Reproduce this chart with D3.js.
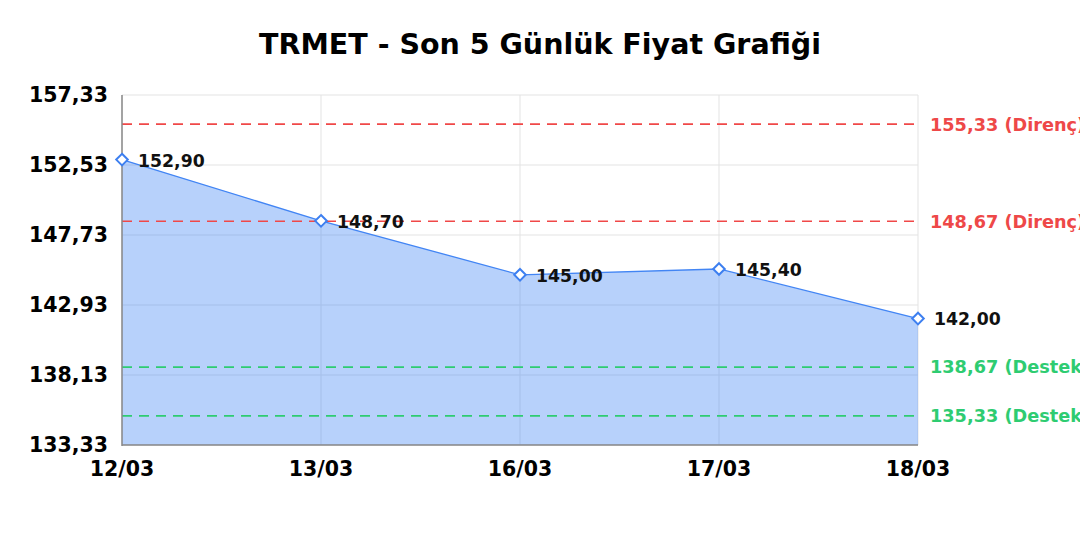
<!DOCTYPE html>
<html>
  <head>
    <meta charset="utf-8" />
    <script src="https://d3js.org/d3.v7.min.js"></script>
    <style>
      body { margin: 0; background: #fff; }
      text { font-family: "DejaVu Sans", sans-serif; font-weight: bold; }
    </style>
  </head>
  <body>
    <svg id="chart" width="1080" height="540"></svg>
    <script>
      // data
      var dates = ["12/03", "13/03", "16/03", "17/03", "18/03"];
      var prices = [152.90, 148.70, 145.00, 145.40, 142.00];
      var yTicks = [133.33, 138.13, 142.93, 147.73, 152.53, 157.33];
      var levelValues = [155.33, 148.67, 138.67, 135.33];
      var levelNames = ["Direnç", "Direnç", "Destek", "Destek"];

      var svg = d3.select("#chart");
      var plotLeft = 122, plotRight = 918, plotTop = 95, plotBottom = 445;

      var fmt = function(v) { return v.toFixed(2).replace(".", ","); };

      var x = d3.scalePoint().domain(dates).range([plotLeft, plotRight]);
      var y = d3.scaleLinear().domain([133.33, 157.33]).range([plotBottom, plotTop]);

      var points = dates.map(function(d, i) { return { date: d, price: prices[i] }; });

      // title
      svg.append("text")
        .attr("x", 540).attr("y", 54)
        .attr("text-anchor", "middle")
        .attr("font-size", 28.5)
        .text("TRMET - Son 5 Günlük Fiyat Grafiği");

      // grid
      svg.append("g").selectAll("line").data(yTicks).enter().append("line")
        .attr("x1", plotLeft).attr("x2", plotRight)
        .attr("y1", function(d) { return y(d); }).attr("y2", function(d) { return y(d); })
        .attr("stroke", "#e3e3e3").attr("stroke-width", 1);
      svg.append("g").selectAll("line").data(dates).enter().append("line")
        .attr("x1", function(d) { return x(d); }).attr("x2", function(d) { return x(d); })
        .attr("y1", plotTop).attr("y2", plotBottom)
        .attr("stroke", "#e3e3e3").attr("stroke-width", 1);

      // area + line
      var area = d3.area()
        .x(function(d) { return x(d.date); })
        .y0(plotBottom)
        .y1(function(d) { return y(d.price); });
      svg.append("path").datum(points)
        .attr("d", area)
        .attr("fill", "#4285f4").attr("fill-opacity", 0.38);

      var line = d3.line()
        .x(function(d) { return x(d.date); })
        .y(function(d) { return y(d.price); });
      svg.append("path").datum(points)
        .attr("d", line)
        .attr("fill", "none").attr("stroke", "#4285f4").attr("stroke-width", 1.3);

      // support / resistance lines
      var levels = levelValues.map(function(v, i) { return { value: v, name: levelNames[i] }; });
      var levelColor = function(d) { return d.name == "Direnç" ? "#f04848" : "#2ecc71"; };
      svg.append("g").selectAll("line").data(levels).enter().append("line")
        .attr("x1", plotLeft).attr("x2", plotRight)
        .attr("y1", function(d) { return y(d.value); }).attr("y2", function(d) { return y(d.value); })
        .attr("stroke", levelColor).attr("stroke-width", 1.6)
        .attr("stroke-dasharray", "10,7");
      svg.append("g").selectAll("text").data(levels).enter().append("text")
        .attr("x", 930)
        .attr("y", function(d) { return y(d.value); })
        .attr("dy", "0.36em")
        .attr("font-size", 17.7)
        .attr("fill", function(d) { return d.name == "Direnç" ? "#ee4848" : "#2ecc71"; })
        .text(function(d) { return fmt(d.value) + " (" + d.name + ")"; });

      // axes lines
      svg.append("line").attr("x1", plotLeft).attr("x2", plotLeft).attr("y1", plotTop).attr("y2", plotBottom + 1)
        .attr("stroke", "#888").attr("stroke-width", 1.5);
      svg.append("line").attr("x1", plotLeft).attr("x2", plotRight).attr("y1", plotBottom).attr("y2", plotBottom)
        .attr("stroke", "#888").attr("stroke-width", 1.5);

      // tick labels
      svg.append("g").selectAll("text").data(yTicks).enter().append("text")
        .attr("x", 108)
        .attr("y", function(d) { return y(d); })
        .attr("dy", "0.35em")
        .attr("text-anchor", "end")
        .attr("font-size", 20.5)
        .text(fmt);
      svg.append("g").selectAll("text").data(dates).enter().append("text")
        .attr("x", function(d) { return x(d); })
        .attr("y", 476)
        .attr("text-anchor", "middle")
        .attr("font-size", 20.5)
        .text(function(d) { return d; });

      // markers
      var diamond = d3.symbol().type(d3.symbolDiamond2).size(85);
      svg.append("g").selectAll("path").data(points).enter().append("path")
        .attr("d", diamond)
        .attr("transform", function(d) { return "translate(" + x(d.date) + "," + y(d.price) + ")"; })
        .attr("fill", "#fff").attr("stroke", "#3d7ff0").attr("stroke-width", 2);

      // point labels
      svg.append("g").selectAll("text").data(points).enter().append("text")
        .attr("x", function(d) { return x(d.date) + 16; })
        .attr("y", function(d) { return y(d.price); })
        .attr("dy", "0.4em")
        .attr("font-size", 17.3)
        .attr("fill", "#111")
        .text(function(d) { return fmt(d.price); });
    </script>
  </body>
</html>
